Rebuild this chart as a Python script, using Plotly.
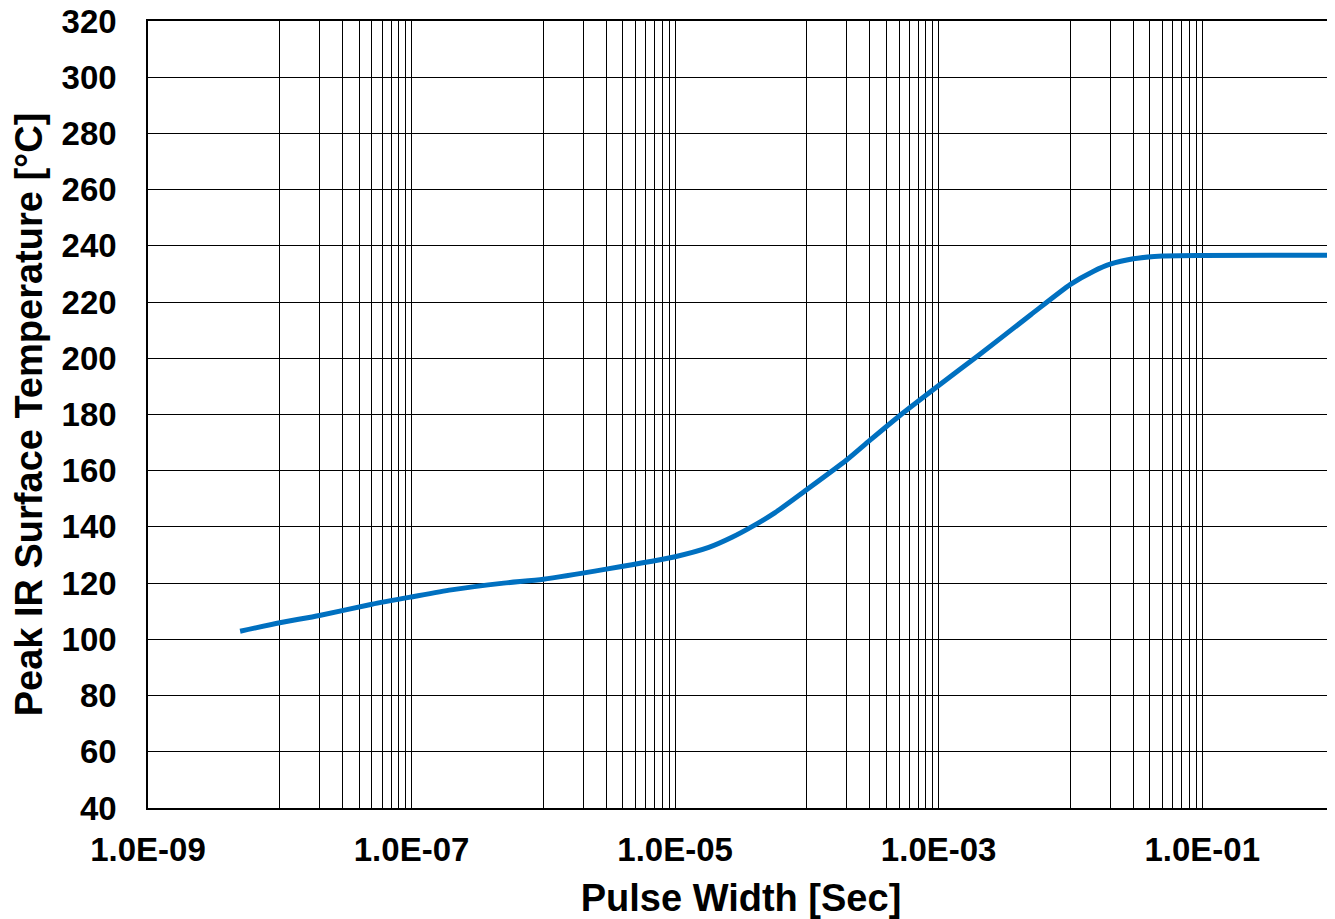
import plotly.graph_objects as go

pulse_width = [5e-9, 1e-8, 2e-8, 5e-8, 1e-7, 2e-7, 5e-7, 1e-6, 3e-6, 1e-5,
               1.8e-5, 2.7e-5, 3.8e-5, 5.7e-5, 1e-4, 2e-4, 3e-4, 5e-4, 1e-3, 2e-3,
               5e-3, 1e-2, 1.5e-2, 2e-2, 3e-2, 5e-2, 1e-1, 1.0]
peak_temp = [102.9, 105.9, 108.5, 112.5, 115.1, 117.6, 120.0, 121.4, 125.0, 129.4,
             132.7, 136.3, 140.0, 145.0, 153.3, 163.8, 170.8, 179.4, 190.3, 201.0,
             215.5, 226.3, 231.0, 233.5, 235.4, 236.4, 236.6, 236.7]

x_tickvals = [1e-9, 1e-7, 1e-5, 1e-3, 1e-1]
x_ticktext = ["1.0E-09", "1.0E-07", "1.0E-05", "1.0E-03", "1.0E-01"]
y_tickvals = list(range(40, 321, 20))

# gridlines: every decade, plus 2..9 multiples in alternate decades
minor_vals = [1e-8, 1e-6, 1e-4, 1e-2, 1.0]
for k in [-8, -6, -4, -2]:
    for m in range(2, 10):
        minor_vals.append(m * 10.0 ** k)

FONT = "Liberation Sans, Arial, sans-serif"

fig = go.Figure()
fig.add_trace(go.Scatter(
    x=pulse_width, y=peak_temp, mode="lines",
    line=dict(color="#0070C0", width=5, shape="spline", smoothing=0.6),
    showlegend=False,
))

# page body has an 8px margin: figure is sized/margined to compensate
fig.update_layout(
    width=1327, height=911,
    margin=dict(l=140, r=1, t=13, b=111, autoexpand=False),
    paper_bgcolor="white", plot_bgcolor="white",
    font=dict(family=FONT, color="black"),
)
fig.update_xaxes(
    type="log", range=[-9, 0],
    tickmode="array", tickvals=x_tickvals, ticktext=x_ticktext,
    tickfont=dict(size=33, family=FONT, color="black", weight="bold"),
    showgrid=True, gridcolor="black", gridwidth=1,
    minor=dict(tickmode="array", tickvals=minor_vals, showgrid=True,
               gridcolor="black", gridwidth=1, ticks=""),
    showline=True, linecolor="black", linewidth=1.5, mirror=True,
    ticks="", ticklabelstandoff=12, ticklabeloverflow="allow",
    title=dict(text="<b>Pulse Width [Sec]</b>", font=dict(size=38, family=FONT, color="black"),
               standoff=27),
    zeroline=False, automargin=False,
)
fig.update_yaxes(
    range=[40, 320], tickmode="array", tickvals=y_tickvals,
    tickfont=dict(size=33, family=FONT, color="black", weight="bold"),
    showgrid=True, gridcolor="black", gridwidth=1,
    showline=True, linecolor="black", linewidth=1.5, mirror=True,
    ticks="", ticklabelstandoff=23, ticklabeloverflow="allow",
    title=dict(text="<b>Peak IR Surface Temperature [°C]</b>",
               font=dict(size=38, family=FONT, color="black"), standoff=14),
    zeroline=False, automargin=False,
)

fig.write_html("out.html")
